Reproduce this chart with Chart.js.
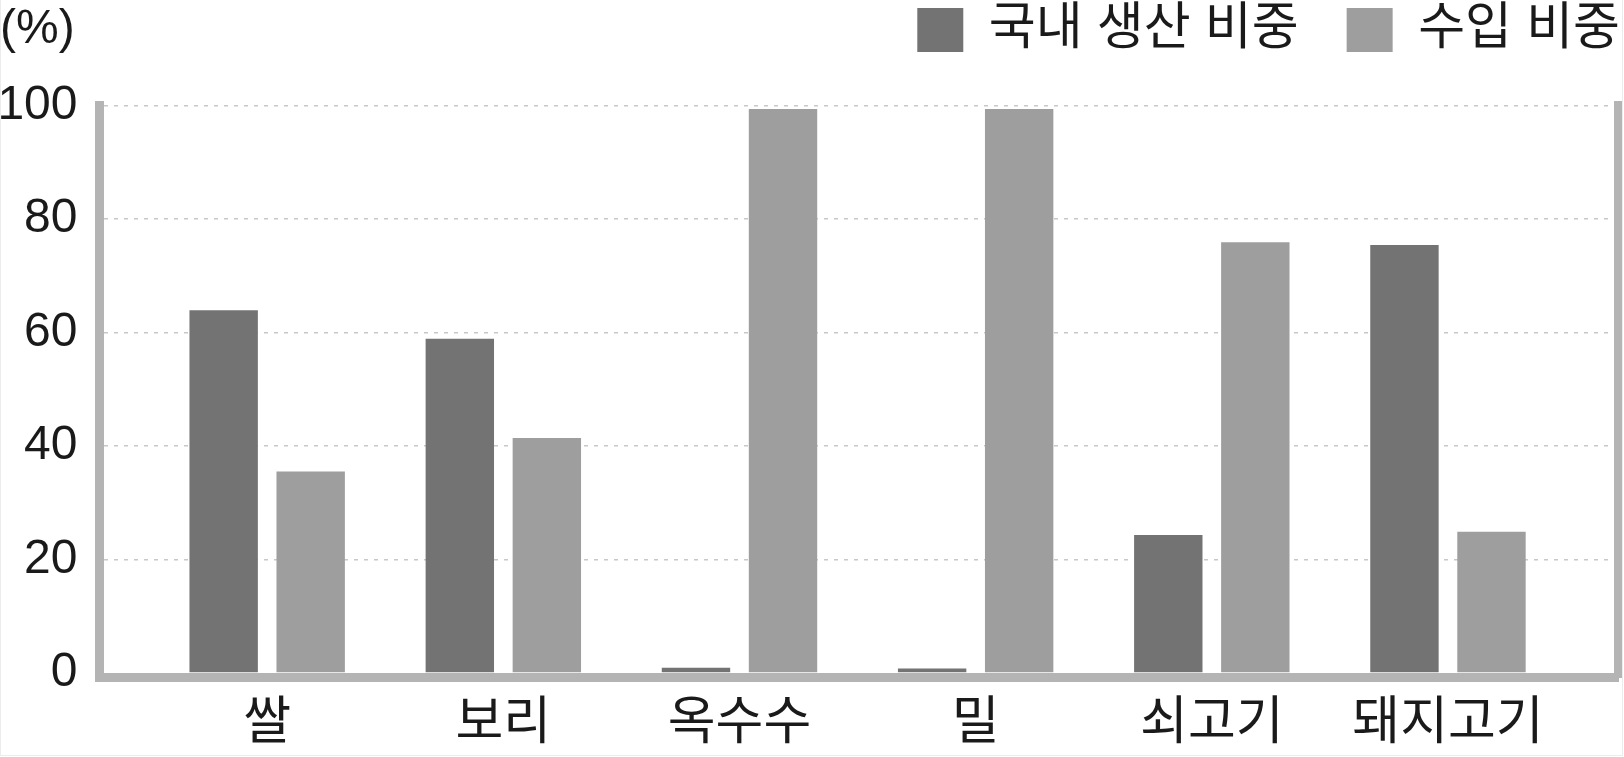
<!DOCTYPE html>
<html>
<head>
<meta charset="utf-8">
<script src="https://cdn.jsdelivr.net/npm/chart.js@4.4.1/dist/chart.umd.min.js"></script>
<style>
    html, body { margin: 0; padding: 0; background: #fff; }
    #wrap { position: relative; width: 1624px; height: 757px; }
    #unit { position: absolute; left: 0; top: -3px; font: 48px "Liberation Sans", sans-serif; color: #1a1a1a; line-height: 60px; }
    #frame { position: absolute; left: 0; top: 0; right: 1px; bottom: 1px; border-left: 1px solid #ececec; border-right: 1px solid #ececec; border-bottom: 1px solid #ececec; pointer-events: none; }
</style>
</head>
<body>
<div id="wrap">
    <canvas id="chart"></canvas>
    <div id="unit">(%)</div>
    <div id="frame"></div>
</div>
<script>
    // data
    const categories = ["쌀", "보리", "옥수수", "밀", "쇠고기", "돼지고기"];
    const seriesNames = ["국내 생산 비중", "수입 비중"];
    const domestic = [63.9, 58.9, 0.9, 0.8, 24.3, 75.4];
    const imported = [35.5, 41.4, 99.4, 99.4, 75.9, 24.9];
    const yTicks = [0, 20, 40, 60, 80, 100];

    const FONT = '"Liberation Sans", "Noto Sans CJK KR", sans-serif';
    const TEXT = "#1a1a1a";
    const AXIS = "#b4b4b4";
    const GRID = "#c8c8c8";

    function toPoints(values) {
        return categories.map((c, i) => ({ x: i, y: values[i] }));
    }

    const barOpts = { categoryPercentage: 0.737, barPercentage: 0.786 };

    new Chart(document.getElementById("chart"), {
        type: "bar",
        data: {
            datasets: [
                { label: seriesNames[0], data: toPoints(domestic), backgroundColor: "#737373", ...barOpts },
                { label: seriesNames[1], data: toPoints(imported), backgroundColor: "#9e9e9e", ...barOpts },
            ],
        },
        options: {
            responsive: true,
            maintainAspectRatio: false,
            animation: false,
            // legend pushed up/right past the canvas padding so it sits where the original has it
            layout: { padding: { top: -43.5, right: -44, left: 0, bottom: 0 } },
            plugins: {
                tooltip: { enabled: false },
                legend: {
                    position: "top",
                    align: "end",
                    labels: {
                        boxWidth: 46,
                        boxHeight: 44,
                        padding: 48,
                        color: TEXT,
                        font: { family: FONT, size: 51 },
                    },
                },
            },
            scales: {
                x: {
                    type: "linear",
                    offset: false,
                    min: -0.71,
                    max: 5.72,
                    afterBuildTicks: (s) => { s.ticks = categories.map((c, i) => ({ value: i })); },
                    afterFit: (s) => { s.height = 79.5; },
                    ticks: {
                        callback: (v) => categories[v],
                        color: TEXT,
                        font: { family: FONT, size: 52 },
                        padding: 16,
                        maxRotation: 0,
                        autoSkip: false,
                    },
                    grid: { display: false, drawTicks: false },
                    border: { display: true, color: AXIS, width: 9 },
                },
                // empty top axis: gap between legend and plot
                spacer: {
                    type: "linear",
                    position: "top",
                    display: true,
                    afterFit: (s) => { s.height = 40; },
                    ticks: { display: false },
                    grid: { display: false, drawTicks: false },
                    border: { display: false },
                },
                y: {
                    min: -0.8,
                    max: 100,
                    afterBuildTicks: (s) => { s.ticks = yTicks.map((v) => ({ value: v })); },
                    afterFit: (s) => { s.width = 99.5; },
                    ticks: {
                        color: TEXT,
                        font: { family: FONT, size: 48 },
                        padding: 22,
                    },
                    grid: {
                        color: (ctx) => (ctx.tick && ctx.tick.value === 0 ? "rgba(0,0,0,0)" : GRID),
                        lineWidth: 1.5,
                        drawTicks: false,
                    },
                    border: { display: true, color: AXIS, width: 9, dash: [4, 6] },
                },
                y2: {
                    position: "right",
                    min: -0.8,
                    max: 100,
                    afterFit: (s) => { s.width = 50; },
                    ticks: { display: false },
                    grid: { display: false, drawTicks: false },
                    border: { display: true, color: AXIS, width: 9 },
                },
            },
        },
    });
</script>
</body>
</html>
